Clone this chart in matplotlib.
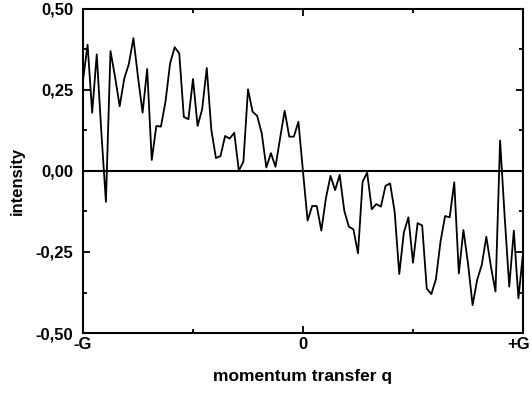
import matplotlib
matplotlib.use('Agg')
import matplotlib.pyplot as plt
import matplotlib.transforms as mtransforms
from matplotlib.ticker import MultipleLocator
import numpy as np

# intensity, evenly spaced between -G and +G
intensity = [
    0.28, 0.39, 0.18, 0.36, 0.12, -0.095, 0.37, 0.29, 0.20, 0.285,
    0.33, 0.41, 0.29, 0.18, 0.315, 0.034, 0.139, 0.137, 0.214, 0.332,
    0.382, 0.363, 0.167, 0.16, 0.284, 0.139, 0.191, 0.318, 0.127, 0.04,
    0.046, 0.108, 0.10, 0.118, 0.001, 0.029, 0.252, 0.183, 0.17, 0.116,
    0.011, 0.055, 0.013, 0.101, 0.186, 0.106, 0.106, 0.152, -0.002, -0.153,
    -0.108, -0.108, -0.184, -0.084, -0.015, -0.059, -0.012, -0.122, -0.172, -0.18,
    -0.254, -0.033, -0.005, -0.118, -0.102, -0.11, -0.046, -0.038, -0.126, -0.318,
    -0.19, -0.143, -0.283, -0.161, -0.168, -0.363, -0.38, -0.334, -0.218, -0.139,
    -0.143, -0.035, -0.316, -0.182, -0.285, -0.414, -0.336, -0.29, -0.203, -0.295,
    -0.372, 0.094, -0.141, -0.357, -0.184, -0.393, -0.254,
]
q = np.linspace(-1, 1, len(intensity))

x_ticks = [-1, 0, 1]
x_labels = ['-G', '0', '+G']
y_ticks = [-0.5, -0.25, 0.0, 0.25, 0.5]
y_labels = ['-0,50', '-0,25', '0,00', '0,25', '0,50']

plt.rcParams['font.family'] = ['Liberation Sans', 'DejaVu Sans']
plt.rcParams['font.weight'] = 'bold'

fig = plt.figure(figsize=(5.32, 3.93), dpi=100)
ax = fig.add_axes([83 / 532, 1 - 333 / 393, 440 / 532, 324 / 393])

ax.axhline(0, color='black', lw=1.5)
ax.plot(q, intensity, color='black', lw=1.3)

ax.set_xlim(-1, 1)
ax.set_ylim(-0.5, 0.5)
ax.set_xticks(x_ticks)
ax.set_xticklabels(x_labels)
ax.set_yticks(y_ticks)
ax.set_yticklabels(y_labels)
ax.xaxis.set_minor_locator(MultipleLocator(0.5))
ax.yaxis.set_minor_locator(MultipleLocator(0.125))
ax.tick_params(which='both', direction='in', top=True, right=True,
               width=1.3, labelsize=12)
ax.tick_params(axis='y', pad=7)
ax.tick_params(axis='x', pad=3)
ax.tick_params(which='major', length=5)
ax.tick_params(which='minor', length=3)
for s in ax.spines.values():
    s.set_linewidth(1.5)

# nudge "+G" a little left so it stays inside the figure
last = ax.get_xticklabels()[-1]
last.set_transform(last.get_transform()
                   + mtransforms.ScaledTranslation(-4 / 100, 0, fig.dpi_scale_trans))

ax.set_xlabel('momentum transfer q', fontsize=12.5, fontweight='bold', labelpad=12)
ax.set_ylabel('intensity', fontsize=12, fontweight='bold', labelpad=9)
ax.yaxis.set_label_coords(-0.133, 0.47)

fig.savefig('out.png', dpi=100)
